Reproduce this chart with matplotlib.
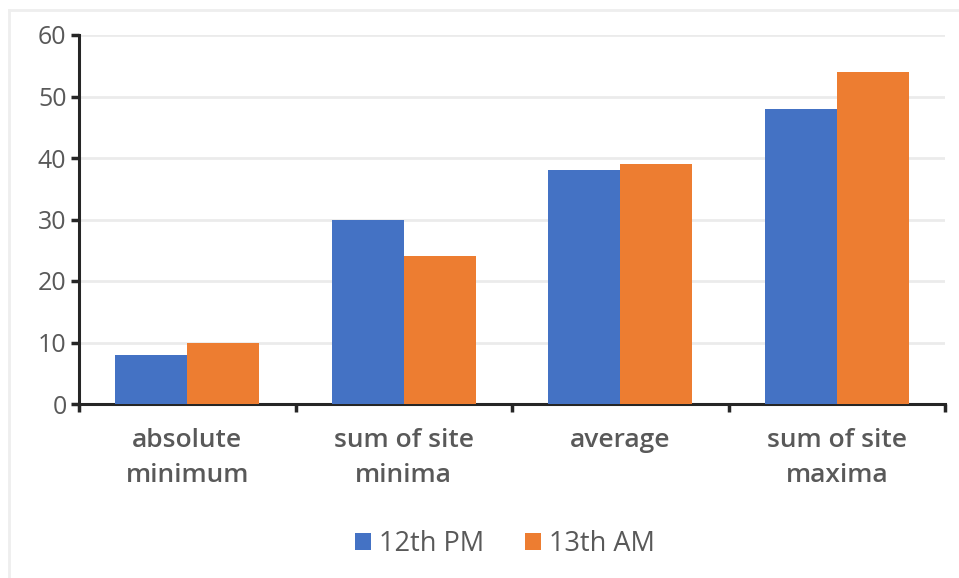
import matplotlib
matplotlib.use('Agg')
import matplotlib.pyplot as plt
import numpy as np
from matplotlib.lines import Line2D

categories = ['absolute\nminimum', 'sum of site\nminima', 'average', 'sum of site\nmaxima']
series_names = ['12th PM', '13th AM']
pm_12th = [8, 30, 38, 48]
am_13th = [10, 24, 39, 54]
y_ticks = [0, 10, 20, 30, 40, 50, 60]

colors = ['#4472C4', '#ED7D31']
text_color = '#595959'
plt.rcParams['font.family'] = ['Open Sans', 'DejaVu Sans']

fig = plt.figure(figsize=(9.59, 5.78), dpi=100)
ax = fig.add_axes([79 / 959, 174 / 578, 866 / 959, 369 / 578])

x = np.arange(len(categories))
w = 0.333
ax.bar(x - w / 2, pm_12th, w, color=colors[0], label=series_names[0], zorder=3)
ax.bar(x + w / 2, am_13th, w, color=colors[1], label=series_names[1], zorder=3)

ax.set_xlim(-0.5, len(categories) - 0.5)
ax.set_ylim(0, 60)
ax.set_yticks(y_ticks)
ax.set_yticklabels([str(t) for t in y_ticks], color=text_color, fontsize=18)
ax.yaxis.grid(True, color='#ebebeb', linewidth=2, zorder=0)
ax.set_axisbelow(True)

# category labels centred, ticks on group boundaries
ax.set_xticks(x)
ax.set_xticklabels(categories, color=text_color, fontsize=19, fontweight='semibold',
                   linespacing=1.55)
ax.tick_params(axis='x', length=0, pad=17)
ax.set_xticks(np.arange(-0.5, len(categories)), minor=True)
ax.tick_params(axis='x', which='minor', length=6, width=2.5, color='#262626', direction='out')
ax.tick_params(axis='y', length=6, width=2.5, color='#262626', pad=3)

for side in ['top', 'right']:
    ax.spines[side].set_visible(False)
for side in ['left', 'bottom']:
    ax.spines[side].set_linewidth(2.2)
    ax.spines[side].set_color('#262626')

fig.legend(*ax.get_legend_handles_labels(), loc='center',
           bbox_to_anchor=(505 / 959, 1 - 544 / 578),
           ncol=2, frameon=False, fontsize=19.5, handlelength=0.6, handleheight=0.6,
           handletextpad=0.3, columnspacing=1.5, labelcolor=text_color)

# thin frame around the chart area
fig.add_artist(Line2D([9 / 959, 9 / 959], [0, 1 - 10 / 578], color='#eeeeee', linewidth=2,
                      transform=fig.transFigure))
fig.add_artist(Line2D([9 / 959, 1], [1 - 10 / 578, 1 - 10 / 578], color='#eeeeee', linewidth=2,
                      transform=fig.transFigure))

fig.savefig('out.png', dpi=100)
plt.close(fig)
